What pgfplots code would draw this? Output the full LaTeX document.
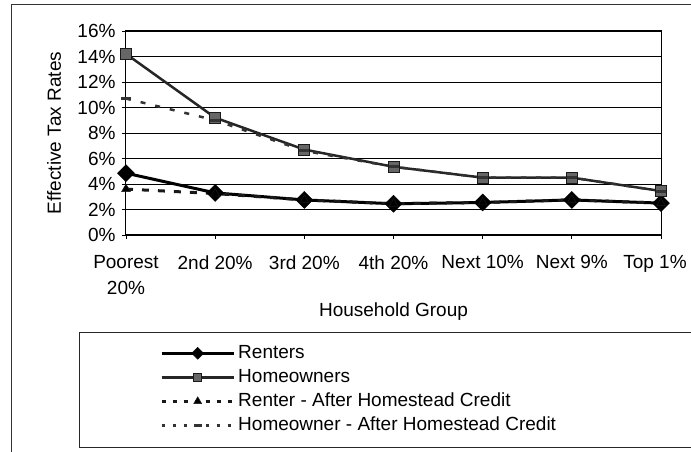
\documentclass[border=0pt]{standalone}
\usepackage{pgfplots}
\pgfplotsset{compat=1.18}
\usepackage{fontspec}
\setmainfont{Liberation Sans}
\begin{document}
\begin{tikzpicture}
\useasboundingbox (0,0) rectangle (691pt,452pt);
% outer chart frame (only left and top visible)
\draw[line width=1pt, black!80] (11pt,-10pt) -- (11pt,447pt) -- (700pt,447pt);
% legend frame
\draw[line width=1pt, black!85] (79pt,4pt) rectangle (705pt,119pt);
\begin{axis}[
  at={(126pt,217pt)}, anchor=south west,
  scale only axis, width=535pt, height=204pt,
  xmin=0, xmax=6, ymin=0, ymax=16,
  xtick={0,1,2,3,4,5,6},
  xticklabels={Poorest\\20\%, 2nd 20\%, 3rd 20\%, 4th 20\%, Next 10\%, Next 9\%, Top 1\%\hspace*{12pt}},
  ytick={0,2,4,6,8,10,12,14,16},
  yticklabels={0\%,2\%,4\%,6\%,8\%,10\%,12\%,14\%,16\%},
  xtick pos=bottom, ytick pos=left,
  tick align=outside, major tick length=4pt,
  tick style={black, line width=0.8pt},
  ymajorgrids, major grid style={black, line width=0.8pt},
  axis line style={black, line width=1pt},
  tick label style={font=\fontsize{19}{26}\selectfont},
  xticklabel style={align=center, yshift=-13pt},
  yticklabel style={xshift=-3pt},
  label style={font=\fontsize{19}{22}\selectfont},
  xlabel={Household Group},
  ylabel={Effective Tax Rates},
  xlabel style={at={(axis description cs:0.5,-0.375)}, anchor=center},
  ylabel style={at={(axis description cs:-0.1346,0.5)}, anchor=center},
  clip=false,
  legend cell align=left,
  legend style={at={(axis description cs:0.0636,-0.52)}, anchor=north west,
    draw=none, fill=none, font=\fontsize{19}{20}\selectfont,
    row sep=0pt, inner sep=0pt,
    nodes={text height=14pt, text depth=4pt, inner ysep=3pt, inner xsep=3pt}},
  legend image code/.code={\draw[mark repeat=2,mark phase=2] plot coordinates {(0pt,0pt) (36pt,0pt) (72pt,0pt)};},
]
\addplot[black, line width=3pt, mark=square*, mark size=6pt,
  mark options={rotate=45, solid, fill=black, line width=0.5pt},
  legend image post style={mark size=4.2pt}]
  coordinates {(0,4.85) (1,3.3) (2,2.75) (3,2.45) (4,2.55) (5,2.75) (6,2.5)};
\addlegendentry{Renters}
\addplot[black!85, line width=2.5pt, mark=square*, mark size=5.5pt,
  mark options={solid, fill=black!60, draw=black!90, line width=1pt},
  legend image post style={mark size=4pt}]
  coordinates {(0,14.2) (1,9.2) (2,6.7) (3,5.35) (4,4.5) (5,4.5) (6,3.45)};
\addlegendentry{Homeowners}
\addplot[black!90, line width=3pt, dash pattern=on 7pt off 9pt, mark=triangle*, mark size=5pt,
  mark options={solid, fill=black, line width=0.5pt},
  legend image post style={mark size=4.5pt, dash pattern=on 4pt off 7pt}]
  coordinates {(0,3.6) (1,3.25) (2,2.75) (3,2.45) (4,2.55) (5,2.75) (6,2.5)};
\addlegendentry{Renter - After Homestead Credit}
\addplot[black!80, line width=2.5pt, dash pattern=on 5pt off 10pt, mark=-, mark size=5pt,
  mark options={solid, line width=3pt},
  legend image post style={mark size=4pt, dash pattern=on 3pt off 8pt}]
  coordinates {(0,10.7) (1,9.0) (2,6.6) (3,5.35) (4,4.5) (5,4.5) (6,3.45)};
\addlegendentry{Homeowner - After Homestead Credit}
\end{axis}
\end{tikzpicture}
\end{document}
